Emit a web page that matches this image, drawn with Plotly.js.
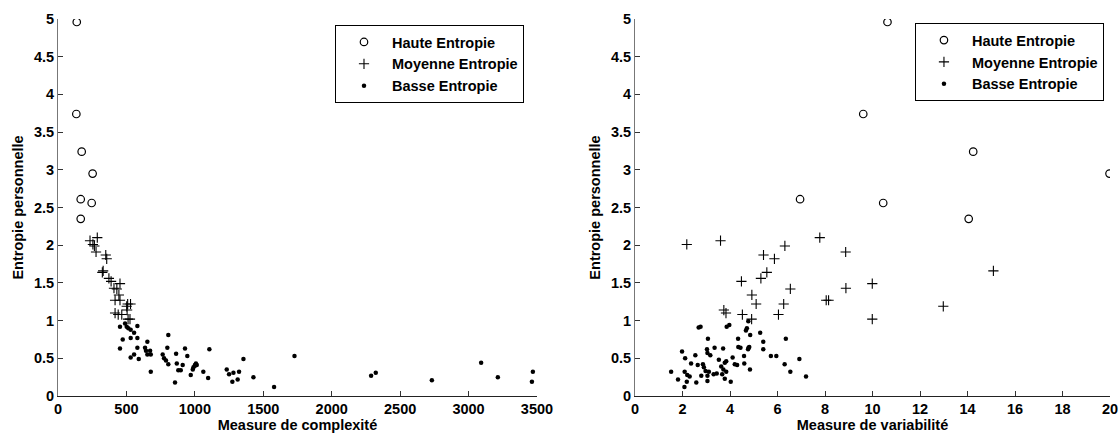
<!DOCTYPE html>
<html><head><meta charset="utf-8">
<script src="https://cdn.plot.ly/plotly-3.0.1.min.js"></script>
<style>html,body{margin:0;padding:0;background:#fff}#c{width:1119px;height:435px}</style>
</head><body><div id="c"></div>
<script>
// Haute Entropie
const highEnt = [4.96,3.74,3.24,2.95,2.61,2.56,2.35];
const highCx  = [137,134,173,253,166,246,166];
const highVar = [10.63,9.61,14.24,19.98,6.95,10.45,14.05];
// Moyenne Entropie
const midEnt = [2.10,2.06,2.01,1.99,1.91,1.87,1.82,1.66,1.64,1.56,1.52,1.49,1.43,1.42,1.34,1.27,1.27,1.22,1.22,1.19,1.14,1.10,1.08,1.08,1.02,1.02];
const midCx  = [287,234,255,266,278,349,356,330,324,372,388,453,409,430,445,417,453,509,530,502,505,417,466,440,512,526];
const midVar = [7.78,3.60,2.18,6.31,8.87,5.41,5.87,15.09,5.55,5.30,4.48,9.99,8.88,6.54,4.92,8.05,8.15,5.10,6.26,12.98,3.74,3.83,4.52,6.04,4.91,9.99];
// Basse Entropie (complexité)
const lowCx = [453,490,502,514,531,556,580,473,531,580,453,531,556,590,580,653,636,643,673,653,678,678,806,799,765,775,789,806,863,868,879,897,911,928,945,855,970,985,1001,1014,1000,1008,990,1062,1097,1106,1233,1250,1274,1282,1313,1323,1355,1428,1579,1728,2288,2322,2732,3092,3214,3470,3463];
const lowCxEnt = [0.92,0.96,0.92,0.90,0.88,0.84,0.93,0.75,0.77,0.77,0.63,0.51,0.55,0.49,0.64,0.72,0.64,0.60,0.60,0.55,0.55,0.32,0.81,0.64,0.55,0.50,0.47,0.42,0.56,0.43,0.34,0.34,0.41,0.63,0.53,0.18,0.28,0.35,0.41,0.41,0.40,0.43,0.38,0.32,0.24,0.62,0.35,0.29,0.19,0.31,0.22,0.32,0.49,0.25,0.12,0.53,0.27,0.31,0.21,0.44,0.25,0.32,0.19];
// Basse Entropie (variabilité)
const lowVar = [1.52,1.81,1.98,2.11,2.09,2.20,2.18,2.08,2.30,2.36,2.54,2.58,2.64,2.68,2.76,2.79,2.86,2.90,2.97,3.07,3.03,3.05,3.17,3.11,3.05,3.05,3.31,3.44,3.35,3.53,3.63,3.71,3.67,3.78,3.72,3.84,3.78,3.84,4.03,3.86,3.97,4.11,4.20,4.30,4.34,4.35,4.44,4.59,4.60,4.67,4.71,4.77,4.78,4.81,4.85,4.84,4.76,5.27,5.40,5.40,5.72,5.95,6.35,6.30,6.54,6.92,7.20];
const lowVarEnt = [0.32,0.22,0.59,0.50,0.32,0.28,0.19,0.12,0.26,0.43,0.54,0.18,0.41,0.91,0.92,0.27,0.42,0.38,0.33,0.76,0.62,0.57,0.54,0.32,0.27,0.20,0.29,0.30,0.64,0.48,0.39,0.63,0.29,0.44,0.35,0.32,0.23,0.46,0.19,0.92,0.94,0.51,0.42,0.41,0.76,0.65,0.64,0.53,0.43,0.87,0.90,0.99,0.64,0.65,0.81,0.35,0.62,0.84,0.72,0.62,0.53,0.53,0.76,0.42,0.32,0.49,0.26];

const names = ['Haute Entropie','Moyenne Entropie','Basse Entropie'];
const mHigh = {symbol:'circle-open', size:7.5, color:'#000', line:{width:1.2, color:'#000'}};
const mMid  = {symbol:'cross-thin-open', size:7.3, color:'#000', line:{width:1.1, color:'#000'}};
const mLow  = {symbol:'circle', size:4.5, color:'#000'};

const traces = [
  {x:highCx, y:highEnt, name:names[0], mode:'markers', type:'scatter', marker:mHigh, xaxis:'x', yaxis:'y', legend:'legend'},
  {x:midCx, y:midEnt, name:names[1], mode:'markers', type:'scatter', marker:mMid, xaxis:'x', yaxis:'y', legend:'legend'},
  {x:lowCx, y:lowCxEnt, name:names[2], mode:'markers', type:'scatter', marker:mLow, xaxis:'x', yaxis:'y', legend:'legend'},
  {x:highVar, y:highEnt, name:names[0], mode:'markers', type:'scatter', marker:mHigh, xaxis:'x2', yaxis:'y2', legend:'legend2'},
  {x:midVar, y:midEnt, name:names[1], mode:'markers', type:'scatter', marker:mMid, xaxis:'x2', yaxis:'y2', legend:'legend2'},
  {x:lowVar, y:lowVarEnt, name:names[2], mode:'markers', type:'scatter', marker:mLow, xaxis:'x2', yaxis:'y2', legend:'legend2'}
];

const FS = 14.5;
const fam = '"Liberation Sans", Arial, sans-serif';
const font = {family:fam, size:FS, color:'#000', weight:'bold'};
const axBase = {showline:true, linewidth:1, ticks:'inside', ticklen:5, tickcolor:'#333', showgrid:false, zeroline:false,
  ticklabeloverflow:'allow', tickfont:{family:fam, size:FS, color:'#000', weight:'bold'}, fixedrange:true};
const ttl = (t, s) => ({text:'<b>'+t+'</b>', font:{family:fam, size:FS, color:'#000'}, standoff:s});

const legBase = {bgcolor:'#fff', bordercolor:'#000', borderwidth:1, font:{family:fam, size:FS, color:'#000', weight:'bold'},
  xanchor:'left', yanchor:'top', tracegroupgap:0, itemwidth:46};

const layout = {
  width:1119, height:435, margin:{l:58, r:9, t:19, b:39}, paper_bgcolor:'#fff', plot_bgcolor:'#fff', font:font,
  xaxis: Object.assign({}, axBase, {domain:[0,0.4553], range:[0,3500], dtick:500, linecolor:'#222', anchor:'y', title:ttl('Measure de complexité', 2)}),
  yaxis: Object.assign({}, axBase, {domain:[0,1], range:[0,5], dtick:0.5, linecolor:'#777', anchor:'x', title:ttl('Entropie personnelle', 6)}),
  xaxis2: Object.assign({}, axBase, {domain:[0.5485,1], range:[0,20], dtick:2, linecolor:'#222', anchor:'y2', title:ttl('Measure de variabilité', 2)}),
  yaxis2: Object.assign({}, axBase, {domain:[0,1], range:[0,5], dtick:0.5, linecolor:'#777', anchor:'x2', title:ttl('Entropie personnelle', 6)}),
  legend: Object.assign({}, legBase, {x:0.2633, y:0.984}),
  legend2: Object.assign({}, legBase, {x:0.8146, y:0.989}),
  showlegend:true
};
Plotly.newPlot('c', traces, layout, {displayModeBar:false, staticPlot:true});
</script></body></html>
